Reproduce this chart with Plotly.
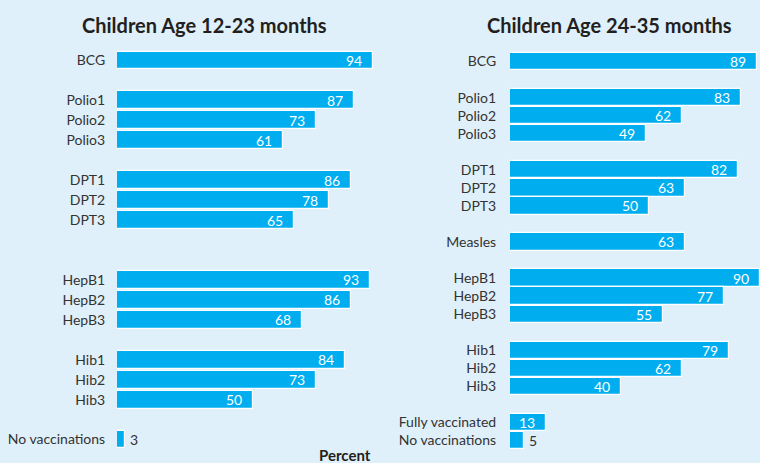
import plotly.graph_objects as go

# ---- data ----
left_title = "Children Age 12-23 months"
right_title = "Children Age 24-35 months"
axis_label = "Percent"

left_categories = ["BCG", " ", "Polio1", "Polio2", "Polio3", "  ", "DPT1", "DPT2", "DPT3",
                   "   ", "    ", "HepB1", "HepB2", "HepB3", "     ", "Hib1", "Hib2", "Hib3",
                   "      ", "No vaccinations"]
left_values = [94, None, 87, 73, 61, None, 86, 78, 65, None, None, 93, 86, 68, None, 84, 73, 50,
               None, 3]

right_categories = ["BCG", " ", "Polio1", "Polio2", "Polio3", "  ", "DPT1", "DPT2", "DPT3",
                    "   ", "Measles", "    ", "HepB1", "HepB2", "HepB3", "     ", "Hib1", "Hib2",
                    "Hib3", "      ", "Fully vaccinated", "No vaccinations"]
right_values = [89, None, 83, 62, 49, None, 82, 63, 50, None, 63, None, 90, 77, 55, None, 79, 62,
                40, None, 13, 5]

# ---- style ----
W, H = 760, 463
BG = "#dff0fa"
BAR = "#00aeef"
TXT = "#333333"
FONT = "Lato"

fig = go.Figure()

def add_panel(cats, vals, xa, ya, width):
    fig.add_trace(go.Bar(
        x=vals, y=cats, orientation="h", xaxis=xa, yaxis=ya,
        marker=dict(color=BAR, line=dict(color="white", width=1.2)),
        width=width, hoverinfo="skip", showlegend=False,
    ))
    for c, v in zip(cats, vals):
        if v is None:
            continue
        if v > 10:
            fig.add_annotation(x=v, y=c, xref=xa, yref=ya, text=str(v), showarrow=False,
                               xanchor="right", xshift=-9,
                               font=dict(family=FONT, size=14, color="white"))
        else:
            fig.add_annotation(x=v, y=c, xref=xa, yref=ya, text=str(v), showarrow=False,
                               xanchor="left", xshift=3,
                               font=dict(family=FONT, size=14, color=TXT))

add_panel(left_categories, left_values, "x", "y", 0.9)
add_panel(right_categories, right_values, "x2", "y2", 0.96)

def py(pix):
    return 1 - pix / H

common_x = dict(showgrid=False, zeroline=False, showticklabels=False, showline=False)
common_y = dict(showgrid=False, zeroline=False, showline=False, type="category",
                autorange="reversed", ticks="outside", tickcolor="rgba(0,0,0,0)",
                tickfont=dict(family=FONT, size=14, color=TXT))

fig.update_layout(
    width=W, height=H,
    margin=dict(l=0, r=0, t=0, b=0),
    paper_bgcolor=BG, plot_bgcolor=BG,
    bargap=0,
    xaxis=dict(domain=[117 / W, 380 / W], range=[0, 263 / 2.72], **common_x),
    yaxis=dict(domain=[py(450), py(50)], anchor="x", ticklen=8, **common_y),
    xaxis2=dict(domain=[510 / W, 1], range=[0, 90.0], anchor="y2", **common_x),
    yaxis2=dict(domain=[py(451), py(51)], anchor="x2", ticklen=10, **common_y),
)

fig.add_annotation(x=204 / W, y=py(25), xref="paper", yref="paper", text=f"<b>{left_title}</b>",
                   showarrow=False, xanchor="center", yanchor="middle",
                   font=dict(family=FONT, size=20, color="#231f20"))
fig.add_annotation(x=609 / W, y=py(25), xref="paper", yref="paper", text=f"<b>{right_title}</b>",
                   showarrow=False, xanchor="center", yanchor="middle",
                   font=dict(family=FONT, size=20, color="#231f20"))
fig.add_annotation(x=345 / W, y=py(455), xref="paper", yref="paper", text=f"<b>{axis_label}</b>",
                   showarrow=False, xanchor="center", yanchor="middle",
                   font=dict(family=FONT, size=15, color="#231f20"))

fig.write_html("out.html", config={"displayModeBar": False},
               post_script="document.body.style.margin='0';")
